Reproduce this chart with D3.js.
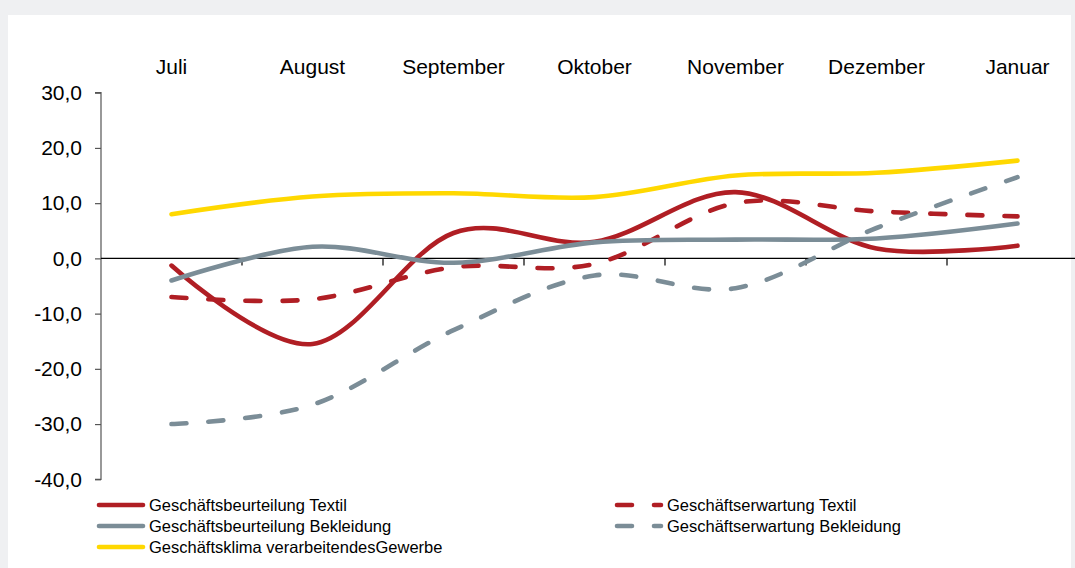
<!DOCTYPE html>
<html><head><meta charset="utf-8">
<script src="https://cdn.jsdelivr.net/npm/d3@7"></script>
<style>
html,body{margin:0;padding:0;background:#eff0f2;}
svg{display:block;font-family:"Liberation Sans",Arial,sans-serif;}
</style></head>
<body>
<svg id="chart" width="1075" height="568"></svg>
<script>
const months = ["Juli","August","September","Oktober","November","Dezember","Januar"];
const yTicks = [30,20,10,0,-10,-20,-30,-40];
const beurteilungTextil   = [-1.3,-15.5,4.6,3.0,12.0,1.8,2.3];
const erwartungTextil     = [-7.0,-7.4,-1.6,-1.0,10.0,8.5,7.6];
const beurteilungBekleid  = [-4.0,2.1,-0.8,2.9,3.4,3.6,6.3];
const erwartungBekleid    = [-30.0,-26.5,-13.0,-3.1,-5.4,5.5,14.7];
const klimaGewerbe        = [8.0,11.2,11.8,11.1,15.0,15.5,17.7];

const seriesNames = ["Geschäftsbeurteilung Textil","Geschäftserwartung Textil","Geschäftsbeurteilung Bekleidung","Geschäftserwartung Bekleidung","Geschäftsklima verarbeitendesGewerbe"];
const seriesValues = [beurteilungTextil, erwartungTextil, beurteilungBekleid, erwartungBekleid, klimaGewerbe];
const RED="#b01e24", GRAY="#7b8d97", YEL="#ffd800";
const styles = [
  {color:RED, dash:null},
  {color:RED, dash:"15,22"},
  {color:GRAY, dash:null},
  {color:GRAY, dash:"15,22"},
  {color:YEL, dash:null}
];

const svg = d3.select("#chart");
svg.append("rect").attr("x",8).attr("y",15).attr("width",1063).attr("height",553).attr("fill","#fff");

const x = d3.scaleBand().domain(months).range([101,1088]).padding(0);
const cx = d => x(d) + x.bandwidth()/2;
const y = d3.scaleLinear().domain([-40,30]).range([479.3,92.7]);

// y axis
const yAxis = d3.axisLeft(y).tickValues(yTicks).tickSize(6).tickPadding(13)
  .tickFormat(v => v.toFixed(1).replace(".", ","));
const ga = svg.append("g").attr("transform","translate(101,0)").call(yAxis);
ga.select(".domain").attr("stroke","#555").attr("stroke-width",1.2).attr("d","M-6,"+y(30)+"H0V"+y(-40)+"H-6");
ga.selectAll(".tick line").attr("stroke","#555").attr("stroke-width",1.2);
ga.selectAll(".tick text").attr("fill","#000").attr("font-size","21px").attr("font-family","Liberation Sans, Arial, sans-serif");

// zero line with category ticks
const gz = svg.append("g").attr("transform","translate(0,"+y(0)+")");
gz.append("line").attr("x1",101).attr("x2",1075).attr("y1",0).attr("y2",0).attr("stroke","#000").attr("stroke-width",1.2);
gz.selectAll("line.ct").data(months.slice(1)).enter().append("line").attr("class","ct")
  .attr("x1",d=>x(d)).attr("x2",d=>x(d)).attr("y1",0).attr("y2",7).attr("stroke","#000").attr("stroke-width",1.2);

// month labels
svg.selectAll("text.month").data(months).enter().append("text").attr("class","month")
  .attr("x",d=>cx(d)).attr("y",74).attr("text-anchor","middle").attr("font-size","21px").attr("fill","#000").text(d=>d);

// lines
const line = d3.line().x((d,i)=>cx(months[i])).y(d=>y(d)).curve(d3.curveCardinal.tension(0));
seriesValues.forEach((vals,k)=>{
  svg.append("path").attr("d",line(vals)).attr("fill","none")
    .attr("stroke",styles[k].color).attr("stroke-width",4.6)
    .attr("stroke-linecap","round").attr("stroke-linejoin","round")
    .attr("stroke-dasharray",styles[k].dash);
});

// legend
const legendPos = [
  {x:97, y:505}, {x:615, y:505},
  {x:97, y:526}, {x:615, y:526},
  {x:97, y:547}
];
seriesNames.forEach((name,k)=>{
  const p = legendPos[k];
  svg.append("line").attr("x1",p.x+2).attr("x2",p.x+46).attr("y1",p.y).attr("y2",p.y)
    .attr("stroke",styles[k].color).attr("stroke-width",4.6).attr("stroke-linecap","round")
    .attr("stroke-dasharray",styles[k].dash);
  svg.append("text").attr("x",p.x+52).attr("y",p.y+5.5).attr("font-size","16.5px").attr("fill","#000").text(name);
});
</script>
</body></html>
